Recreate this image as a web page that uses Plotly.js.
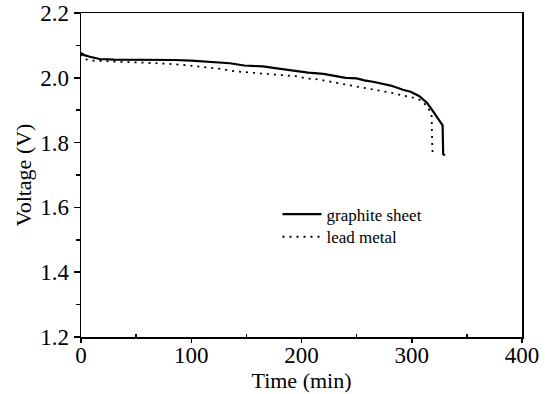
<!DOCTYPE html>
<html>
<head>
<meta charset="utf-8">
<script src="https://cdn.plot.ly/plotly-3.0.1.min.js"></script>
<style>html,body{margin:0;padding:0;background:#fff;}#chart{width:547px;height:394px;}</style>
</head>
<body>
<div id="chart"></div>
<script>
// graphite sheet electrode
const graphiteTime = [0, 3, 8, 17, 30, 50, 85, 100, 120, 135, 148, 165, 176, 191, 206, 220, 229, 240, 250, 257, 266, 281, 292, 299, 307, 314, 320, 325, 328, 328.5, 330];
const graphiteVoltage = [2.077, 2.070, 2.065, 2.058, 2.056, 2.056, 2.055, 2.053, 2.049, 2.045, 2.038, 2.035, 2.030, 2.023, 2.016, 2.012, 2.007, 2.000, 1.998, 1.992, 1.987, 1.976, 1.963, 1.957, 1.943, 1.922, 1.893, 1.870, 1.853, 1.765, 1.760];
// lead metal electrode
const leadTime = [0, 3, 10, 25, 50, 75, 95, 110, 125, 140, 155, 175, 195, 205, 215, 225, 235, 250, 260, 272, 284, 292, 300, 308, 313, 316, 318, 318.5, 319];
const leadVoltage = [2.072, 2.058, 2.053, 2.051, 2.048, 2.044, 2.039, 2.034, 2.028, 2.020, 2.015, 2.010, 2.005, 1.998, 1.995, 1.989, 1.983, 1.972, 1.968, 1.960, 1.952, 1.945, 1.940, 1.931, 1.915, 1.900, 1.885, 1.800, 1.760];
const seriesNames = ["graphite sheet", "lead metal"];
const xTickVals = [0, 100, 200, 300, 400];
const xMinorVals = [50, 150, 250, 350];
const yTickVals = [1.2, 1.4, 1.6, 1.8, 2.0, 2.2];
const yTickText = ["1.2", "1.4", "1.6", "1.8", "2.0", "2.2"];
const yMinorVals = [1.3, 1.5, 1.7, 1.9, 2.1];

const fontFam = "Liberation Serif";
const legFont = {family: fontFam, size: 17, color: "#000"};

const traces = [
  {x: graphiteTime, y: graphiteVoltage, name: seriesNames[0], type: "scatter", mode: "lines",
   line: {color: "#000", width: 2.2}, legend: "legend"},
  {x: leadTime, y: leadVoltage, name: seriesNames[1], type: "scatter", mode: "lines",
   line: {color: "#000", width: 1.8, dash: "2px,5px"}, legend: "legend2"},
  // invisible trace that carries the minor-tick axes
  {x: [0], y: [1.2], xaxis: "x2", yaxis: "y2", type: "scatter", mode: "markers",
   marker: {opacity: 0}, showlegend: false, hoverinfo: "skip"}
];

const layout = {
  width: 547, height: 394,
  margin: {l: 81, r: 25, t: 13, b: 57},
  paper_bgcolor: "#fff", plot_bgcolor: "#fff",
  showlegend: true,
  legend: {x: 0.4456, y: 0.378, xanchor: "left", yanchor: "middle", bgcolor: "rgba(0,0,0,0)",
           font: legFont, itemwidth: 39},
  legend2: {x: 0.4456, y: 0.308, xanchor: "left", yanchor: "middle", bgcolor: "rgba(0,0,0,0)",
           font: legFont, itemwidth: 39},
  xaxis: {
    range: [0, 400], tickvals: xTickVals, ticks: "outside", ticklen: 4, tickwidth: 1.5, tickcolor: "#000",
    ticklabelstandoff: -7,
    showline: true, linecolor: "#000", linewidth: 1.5, mirror: true, showgrid: false, zeroline: false,
    tickfont: {family: fontFam, size: 23, color: "#000"},
    title: {text: "Time (min)", font: {family: fontFam, size: 22, color: "#000"}, standoff: 5}
  },
  yaxis: {
    range: [1.2, 2.2], tickvals: yTickVals, ticktext: yTickText, ticks: "outside", ticklen: 6, tickwidth: 1.5, tickcolor: "#000",
    showline: true, linecolor: "#000", linewidth: 1.5, mirror: true, showgrid: false, zeroline: false,
    tickfont: {family: fontFam, size: 23, color: "#000"},
    title: {text: "Voltage (V)", font: {family: fontFam, size: 22, color: "#000"}, standoff: 2}
  },
  xaxis2: {
    overlaying: "x", anchor: "y2", side: "bottom", range: [0, 400], tickvals: xMinorVals,
    ticks: "inside", ticklen: 3, tickwidth: 1.5, tickcolor: "#000",
    showticklabels: false, showline: false, showgrid: false, zeroline: false
  },
  yaxis2: {
    overlaying: "y", anchor: "x2", side: "left", range: [1.2, 2.2], tickvals: yMinorVals,
    ticks: "outside", ticklen: 4, tickwidth: 1.5, tickcolor: "#000",
    showticklabels: false, showline: false, showgrid: false, zeroline: false
  }
};

Plotly.newPlot("chart", traces, layout, {displayModeBar: false, staticPlot: true});
</script>
</body>
</html>
